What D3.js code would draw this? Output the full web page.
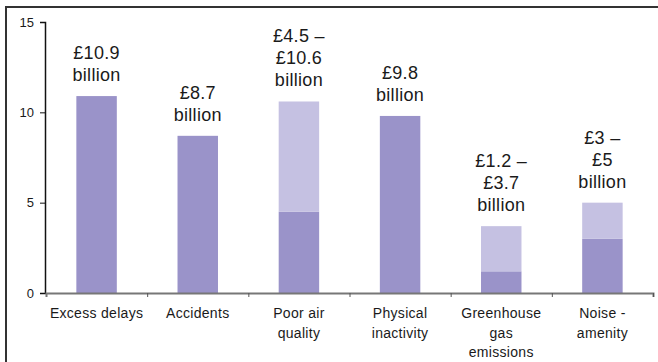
<!DOCTYPE html>
<meta charset="utf-8">
<script src="https://d3js.org/d3.v7.min.js"></script>
<style>
  body { margin: 0; background: #fff; }
  text { font-family: "Liberation Sans", Arial, sans-serif; fill: #1a1a1a; }
</style>
<svg width="658" height="362"></svg>
<script>

    const categories = [["Excess delays"], ["Accidents"], ["Poor air", "quality"], ["Physical", "inactivity"], ["Greenhouse", "gas", "emissions"], ["Noise -", "amenity"]];
    const lowValues = [10.9, 8.7, 4.5, 9.8, 1.2, 3];
    const highValues = [10.9, 8.7, 10.6, 9.8, 3.7, 5];
    const valueLabels = [["£10.9", "billion"], ["£8.7", "billion"], ["£4.5 –", "£10.6", "billion"], ["£9.8", "billion"], ["£1.2 –", "£3.7", "billion"], ["£3 –", "£5", "billion"]];
    const yTicks = [0, 5, 10, 15];

    const width = 658, height = 362
    const svg = d3.select('svg')

    // frame (top and left edges only are visible)
    svg.append('path')
        .attr('d', 'M6,362 V7 H658')
        .attr('fill', 'none')
        .attr('stroke', '#333')
        .attr('stroke-width', 2)

    const x = d3.scaleBand()
        .domain(d3.range(categories.length))
        .range([46, 653])
        .paddingInner(0.6)
        .paddingOuter(0.3)

    const y = d3.scaleLinear()
        .domain([0, 15])
        .range([293, 22])

    const bars = svg.append('g')

    // lower estimate (dark)
    bars.selectAll('rect.low')
        .data(lowValues)
        .enter().append('rect')
        .attr('class', 'low')
        .attr('x', (d, i) => x(i))
        .attr('width', x.bandwidth())
        .attr('y', d => y(d))
        .attr('height', d => y(0) - y(d))
        .attr('fill', '#9a93c9')

    // range up to upper estimate (light)
    bars.selectAll('rect.high')
        .data(highValues)
        .enter().append('rect')
        .attr('class', 'high')
        .attr('x', (d, i) => x(i))
        .attr('width', x.bandwidth())
        .attr('y', d => y(d))
        .attr('height', (d, i) => y(lowValues[i]) - y(d))
        .attr('fill', '#c5c1e2')

    // y axis
    const yAxis = svg.append('g')
        .attr('transform', 'translate(45,0)')
        .call(d3.axisLeft(y).tickValues(yTicks).tickSize(5).tickPadding(6))
    yAxis.select('.domain').attr('stroke', '#111').attr('stroke-width', 1.5)
    yAxis.selectAll('.tick line').attr('stroke', '#111')
    yAxis.selectAll('.tick text').style('font-size', '13px').attr('fill', '#333')

    // x axis with ticks between bands
    const xEdge = d3.scaleLinear().domain([0, categories.length]).range([46, 653])
    const xAxis = svg.append('g')
        .attr('transform', 'translate(0,' + y(0) + ')')
        .call(d3.axisBottom(xEdge).ticks(categories.length).tickSize(4).tickFormat(''))
    xAxis.select('.domain').attr('stroke', '#777').attr('stroke-width', 2)
    xAxis.selectAll('.tick line').attr('stroke', '#555')
    xAxis.selectAll('.tick').filter(d => d === 0).remove()

    // category labels
    svg.selectAll('text.cat')
        .data(categories)
        .enter().append('text')
        .attr('class', 'cat')
        .attr('text-anchor', 'middle')
        .attr('x', (d, i) => x(i) + x.bandwidth() / 2)
        .attr('y', 318)
        .style('font-size', '14px')
        .style('letter-spacing', '0.3px')
        .selectAll('tspan')
        .data(d => d)
        .enter().append('tspan')
        .attr('x', function () { return this.parentNode.getAttribute('x') })
        .attr('dy', (d, i) => i === 0 ? 0 : 19.5)
        .text(d => d)

    // value labels above bars
    svg.selectAll('text.val')
        .data(valueLabels)
        .enter().append('text')
        .attr('class', 'val')
        .attr('text-anchor', 'middle')
        .attr('x', (d, i) => x(i) + x.bandwidth() / 2)
        .attr('y', (d, i) => y(highValues[i]) - 15 - (d.length - 1) * 22)
        .style('font-size', '18px')
        .style('letter-spacing', '0.3px')
        .selectAll('tspan')
        .data(d => d)
        .enter().append('tspan')
        .attr('x', function () { return this.parentNode.getAttribute('x') })
        .attr('dy', (d, i) => i === 0 ? 0 : 22)
        .text(d => d)

</script>
